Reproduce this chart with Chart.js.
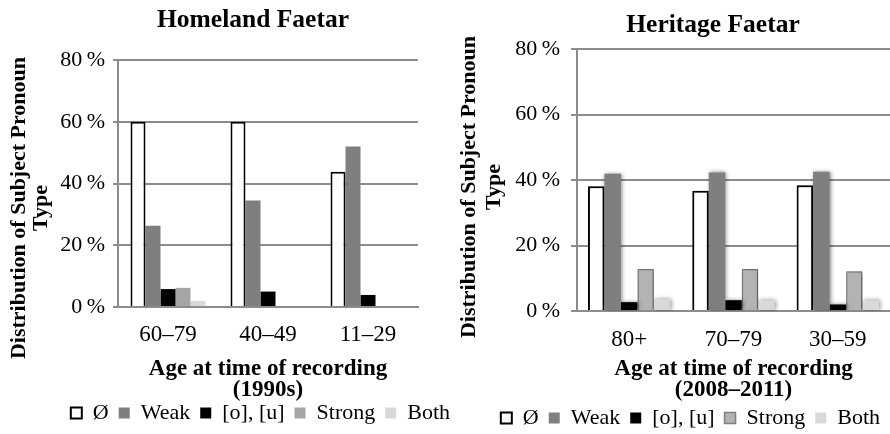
<!DOCTYPE html>
<html lang="en">
<head>
  <meta charset="UTF-8" />
  <title>Faetar subject pronouns</title>
  <script src="https://cdn.jsdelivr.net/npm/chart.js"></script>
  <style>
    body { margin: 0; background: #fff; overflow: hidden; }
    .box { position: absolute; top: 0; height: 434px; }
    #leftBox { left: 0; width: 460px; }
    #rightBox { left: 455px; width: 435px; }
  </style>
</head>
<body>
  <div class="box" id="leftBox"><canvas id="homeChart"></canvas></div>
  <div class="box" id="rightBox"><canvas id="heritChart"></canvas></div>

  <script>
    // series names shared by both charts
    const seriesNames = ['Ø', 'Weak', '[o], [u]', 'Strong', 'Both'];

    // Homeland Faetar (1990s)
    const homeCats = ['60–79', '40–49', '11–29'];
    const homeNull = [60, 60, 43.8];
    const homeWeak = [26.3, 34.5, 52];
    const homeOU = [5.8, 5, 3.9];
    const homeStrong = [6.2, 0, 0];
    const homeBoth = [2, 0, 0];

    // Heritage Faetar (2008-2011)
    const heritCats = ['80+', '70–79', '30–59'];
    const heritNull = [38.1, 36.7, 38.4];
    const heritWeak = [41.9, 42.3, 42.5];
    const heritOU = [2.7, 3.3, 2.0];
    const heritStrong = [12.8, 12.8, 12.1];
    const heritBoth = [3.6, 3.3, 3.3];

    const yTicks = [0, 20, 40, 60, 80];
    const yTitle = ['Distribution of Subject Pronoun', 'Type'];

    const serif = "'Liberation Serif', 'Times New Roman', serif";
    const gridGray = '#8c8c8c';

    // chart title and the rotated two-line y title, drawn at fixed spots
    const textPlugin = {
      id: 'fixedText',
      afterDraw(chart, args, opts) {
        const ctx = chart.ctx;
        ctx.save();
        ctx.fillStyle = '#000';
        ctx.textAlign = 'center';
        ctx.textBaseline = 'middle';
        ctx.font = 'bold 25.5px ' + serif;
        ctx.fillText(opts.title, opts.tx, opts.ty);
        ctx.font = 'bold 22px ' + serif;
        yTitle.forEach((line, i) => {
          ctx.save();
          ctx.translate(opts.xs[i], opts.cy);
          ctx.rotate(-Math.PI / 2);
          ctx.fillText(line, 0, 0);
          ctx.restore();
        });
        ctx.restore();
      }
    };

    // soft shadow behind the heritage bars
    const shadowPlugin = {
      id: 'barShadow',
      beforeDatasetsDraw(chart, args, opts) {
        if (!opts.on) return;
        chart.ctx.save();
        chart.ctx.shadowColor = 'rgba(0,0,0,0.45)';
        chart.ctx.shadowBlur = 4;
        chart.ctx.shadowOffsetX = 1;
        chart.ctx.shadowOffsetY = 0;
      },
      afterDatasetsDraw(chart, args, opts) {
        if (!opts.on) return;
        chart.ctx.restore();
      }
    };

    function makeSets(vals, strongColor, strongBorder) {
      const fills = ['#ffffff', '#7f7f7f', '#000000', strongColor, '#d9d9d9'];
      return vals.map((v, i) => ({
        label: seriesNames[i],
        data: v,
        backgroundColor: fills[i],
        borderColor: i === 0 ? '#000' : (i === 3 && strongBorder ? strongBorder : fills[i]),
        borderWidth: i === 0 ? 2 : (i === 3 && strongBorder ? 1.5 : 0),
        borderSkipped: 'start'
      }));
    }

    function buildChart(id, cfg) {
      return new Chart(document.getElementById(id), {
        type: 'bar',
        data: { labels: cfg.cats, datasets: makeSets(cfg.vals, cfg.strongColor, cfg.strongBorder) },
        plugins: [textPlugin, shadowPlugin],
        options: {
          responsive: true,
          maintainAspectRatio: false,
          animation: false,
          events: [],
          categoryPercentage: cfg.catPct,
          barPercentage: 1,
          layout: { padding: { left: 0, right: 0, top: cfg.padT, bottom: cfg.padB } },
          plugins: {
            title: { display: false },
            legend: {
              position: 'bottom',
              align: 'end',
              labels: {
                color: '#000',
                font: { family: serif, size: 22 },
                boxWidth: 11,
                boxHeight: 11,
                padding: 10
              }
            },
            tooltip: { enabled: false },
            fixedText: { title: cfg.title, tx: cfg.tx, ty: cfg.ty, xs: cfg.titleXs, cy: cfg.titleCy },
            barShadow: { on: cfg.shadow }
          },
          scales: {
            x: {
              grid: { display: false, drawTicks: false },
              border: { display: true, color: gridGray, width: 2 },
              ticks: { color: '#000', font: { family: serif, size: 23 }, padding: cfg.xTickPad },
              title: {
                display: true,
                text: cfg.xTitle,
                color: '#000',
                font: { family: serif, size: 23, weight: 'bold', lineHeight: '21px' },
                padding: { top: 0, bottom: cfg.xTitlePadB }
              },
              afterFit: s => { s.height = cfg.xHeight; }
            },
            y: {
              min: 0,
              max: 80,
              afterBuildTicks: s => { s.ticks = yTicks.map(v => ({ value: v })); },
              grid: { color: gridGray, lineWidth: 2, tickLength: cfg.tickLen },
              border: { display: true, color: gridGray, width: 2 },
              ticks: {
                color: '#000',
                font: { family: serif, size: 22 },
                padding: cfg.yTickPad,
                callback: v => v + '\u2009%'
              },
              afterFit: s => { s.width = cfg.yWidth; }
            },
            y2: {
              position: 'right',
              display: cfg.rightGap > 0,
              grid: { display: false },
              border: { display: false },
              ticks: { display: false },
              afterFit: s => { s.width = cfg.rightGap; }
            }
          }
        }
      });
    }

    buildChart('homeChart', {
      cats: homeCats,
      vals: [homeNull, homeWeak, homeOU, homeStrong, homeBoth],
      strongColor: '#a6a6a6',
      strongBorder: null,
      title: 'Homeland Faetar',
      tx: 253,
      ty: 20,
      xTitle: ['Age at time of recording', '(1990s)'],
      catPct: 0.75,
      padT: 60,
      padB: 0,
      yWidth: 118,
      rightGap: 42,
      xHeight: 85,
      xTickPad: 14,
      xTitlePadB: -9,
      tickLen: 5,
      yTickPad: 8,
      titleXs: [19, 41],
      titleCy: 208,
      shadow: false
    });

    buildChart('heritChart', {
      cats: heritCats,
      vals: [heritNull, heritWeak, heritOU, heritStrong, heritBoth],
      strongColor: '#b3b3b3',
      strongBorder: '#808080',
      title: 'Heritage Faetar',
      tx: 258,
      ty: 25,
      xTitle: ['Age at time of recording', '(2008–2011)'],
      catPct: 0.79,
      padT: 49,
      padB: -5,
      yWidth: 122,
      rightGap: 0,
      xHeight: 86,
      xTickPad: 15,
      xTitlePadB: -4,
      tickLen: 6,
      yTickPad: 11,
      titleXs: [14, 39],
      titleCy: 187,
      shadow: true
    });
  </script>
</body>
</html>
